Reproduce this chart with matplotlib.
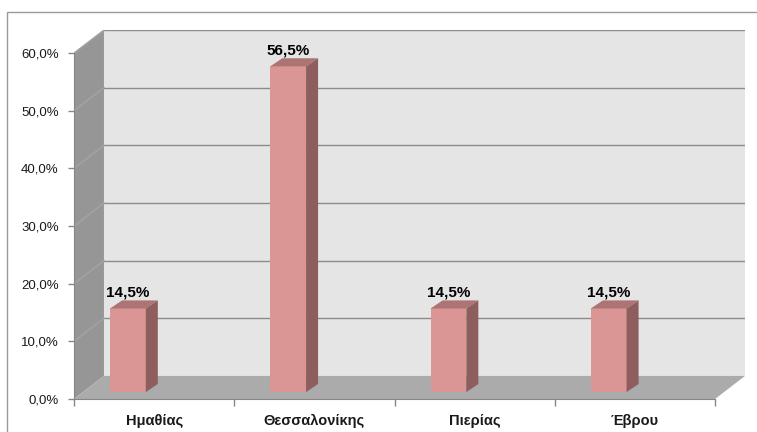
import matplotlib

matplotlib.use("Agg")
import matplotlib.pyplot as plt
from matplotlib.patches import Polygon, Rectangle

categories = ["Ημαθίας", "Θεσσαλονίκης", "Πιερίας", "Έβρου"]
values = [14.5, 56.5, 14.5, 14.5]
value_labels = ["14,5%", "56,5%", "14,5%", "14,5%"]
y_ticks = [0, 10, 20, 30, 40, 50, 60]
y_tick_labels = ["0,0%", "10,0%", "20,0%", "30,0%", "40,0%", "50,0%", "60,0%"]

plt.rcParams["font.family"] = ["Liberation Sans", "DejaVu Sans"]

# depth of the 3d box in data units (categories / percent)
DX, DY = 0.187, 4.0
# bar placement inside the box
BAR_OFF, BAR_W = 0.225, 0.223
BAR_BASE = 1.2
SIDE_DX, SIDE_DY = 0.075, 1.4

n = len(categories)
ymax = y_ticks[-1]

fig = plt.figure(figsize=(7.57, 4.32), dpi=100)
fig.patch.set_facecolor("white")
fig.patches.append(
    Rectangle((7 / 757, -0.05), 1.1, 1 - 12 / 432 + 0.05, transform=fig.transFigure,
              fill=False, edgecolor="#9a9a9a", linewidth=1.0)
)

ax = fig.add_axes([74 / 757, 33 / 432, (745 - 74) / 757, (399 - 30) / 432])
ax.set_xlim(0, n + DX)
ax.set_ylim(0, ymax + DY)
ax.patch.set_visible(False)

# walls and floor
ax.add_patch(Polygon([(0, 0), (DX, DY), (DX, ymax + DY), (0, ymax)],
                     closed=True, facecolor="#969696", edgecolor="none", zorder=1))
ax.add_patch(Polygon([(DX, DY), (n + DX, DY), (n + DX, ymax + DY), (DX, ymax + DY)],
                     closed=True, facecolor="#e5e5e5", edgecolor="none", zorder=1))
ax.add_patch(Polygon([(0, 0), (n, 0), (n + DX, DY), (DX, DY)],
                     closed=True, facecolor="#ababab", edgecolor="none", zorder=1))

for v in y_ticks[1:]:
    ax.plot([DX, n + DX], [v + DY, v + DY], color="#8c8c8c", linewidth=1.0, zorder=2)
    ax.plot([0, DX], [v, v + DY], color="#a4a4a4", linewidth=1.0, zorder=2)

# bars
for i, (val, lab) in enumerate(zip(values, value_labels)):
    x0 = i + BAR_OFF
    x1 = x0 + BAR_W
    y0 = BAR_BASE
    y1 = BAR_BASE + val
    ax.bar(x0, val, width=BAR_W, bottom=y0, align="edge",
           color="#d99694", edgecolor="none", zorder=4)
    ax.add_patch(Polygon([(x0, y1), (x1, y1), (x1 + SIDE_DX, y1 + SIDE_DY), (x0 + SIDE_DX, y1 + SIDE_DY)],
                         closed=True, facecolor="#ad7473", edgecolor="none", zorder=4))
    ax.add_patch(Polygon([(x1, y0), (x1 + SIDE_DX, y0 + SIDE_DY), (x1 + SIDE_DX, y1 + SIDE_DY), (x1, y1)],
                         closed=True, facecolor="#8d5e5d", edgecolor="none", zorder=4))
    ax.annotate(lab, xy=(x0 + BAR_W / 2, y1 + SIDE_DY), xytext=(0, 0.5),
                textcoords="offset points", ha="center", va="bottom",
                fontsize=11, fontweight="bold", color="black", zorder=5)

# axes lines and ticks
for side in ("top", "right"):
    ax.spines[side].set_visible(False)
ax.spines["left"].set_bounds(0, ymax)
ax.spines["bottom"].set_bounds(0, n)
ax.spines["left"].set_color("#868686")
ax.spines["bottom"].set_color("#868686")
ax.spines["left"].set_zorder(3)
ax.spines["bottom"].set_zorder(3)

ax.set_yticks(y_ticks)
ax.set_yticklabels(y_tick_labels, fontsize=9.5, color="#1a1a1a")
ax.tick_params(axis="y", length=4, width=1, color="#868686", pad=7)

ax.set_xticks(range(n + 1))
ax.set_xticklabels([])
ax.set_xticks([i + 0.5 for i in range(n)], minor=True)
ax.set_xticklabels(categories, minor=True, fontsize=10.5, fontweight="bold", color="#1a1a1a")
ax.tick_params(axis="x", which="major", length=5, width=1, color="#868686")
ax.tick_params(axis="x", which="minor", length=0, pad=11)

fig.savefig("out.png", dpi=100)
